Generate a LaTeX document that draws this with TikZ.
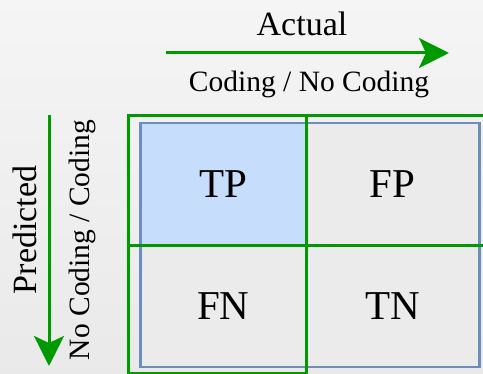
\documentclass[tikz,border=0pt]{standalone}
\usepackage{fontspec}
\setmainfont{Liberation Serif}
\usetikzlibrary{arrows.meta}
\definecolor{framegreen}{HTML}{009A00}
\definecolor{cellblue}{HTML}{6C8EBF}
\definecolor{tpfill}{HTML}{C6DDFB}
\definecolor{cellgray}{HTML}{EBEBEB}
\tikzset{
  cell/.style={draw=cellblue, line width=2.5pt, fill=cellgray, minimum width=#1,
    minimum height=122pt, inner sep=0pt, anchor=north west,
    font=\fontsize{41}{48}\selectfont},
  frame/.style={draw=framegreen, line width=3.3pt, inner sep=0pt, anchor=north west},
  axis/.style={draw=framegreen, line width=3pt,
    -{Stealth[length=30pt, width=30pt, inset=7pt, fill=framegreen]}},
  title/.style={font=\fontsize{34}{40}\selectfont, inner sep=0pt},
  sub/.style={font=\fontsize{29.5}{35}\selectfont, inner sep=0pt}
}
\begin{document}
\begin{tikzpicture}[x=1pt, y=-1pt]
  \useasboundingbox (0,0) rectangle (483,374);
  \shade[top color=gray!8, bottom color=gray!17] (0,0) rectangle (483,374);

  % confusion matrix cells
  \node[cell=166pt, fill=tpfill] (tp) at (139,122) {TP};
  \node[cell=173pt] (fp) at (305,122) {FP};
  \node[cell=166pt] (fn) at (139,244) {FN};
  \node[cell=173pt] (tn) at (305,244) {TN};

  % green frames: actual "Coding" column and predicted "Coding" row
  \begin{scope}
    \clip (0,0) rectangle (483,374);
    \node[frame, minimum width=178pt, minimum height=258pt] (colframe) at (127,114) {};
    \node[frame, minimum width=370pt, minimum height=130pt] (rowframe) at (127,114) {};
  \end{scope}

  % axes
  \coordinate (ax0) at (166,53);
  \coordinate (ax1) at (449,53);
  \draw[axis] (ax0) -- (ax1);
  \node[title] (actual) at (302,24) {Actual};
  \node[sub] (actsub) at (309,84) {Coding / No Coding};

  \coordinate (ay0) at (49,115);
  \coordinate (ay1) at (49,366);
  \draw[axis] (ay0) -- (ay1);
  \node[title, rotate=90] (pred) at (25,230) {Predicted};
  \node[sub, rotate=90] (predsub) at (82,240) {No Coding / Coding};
\end{tikzpicture}
\end{document}
